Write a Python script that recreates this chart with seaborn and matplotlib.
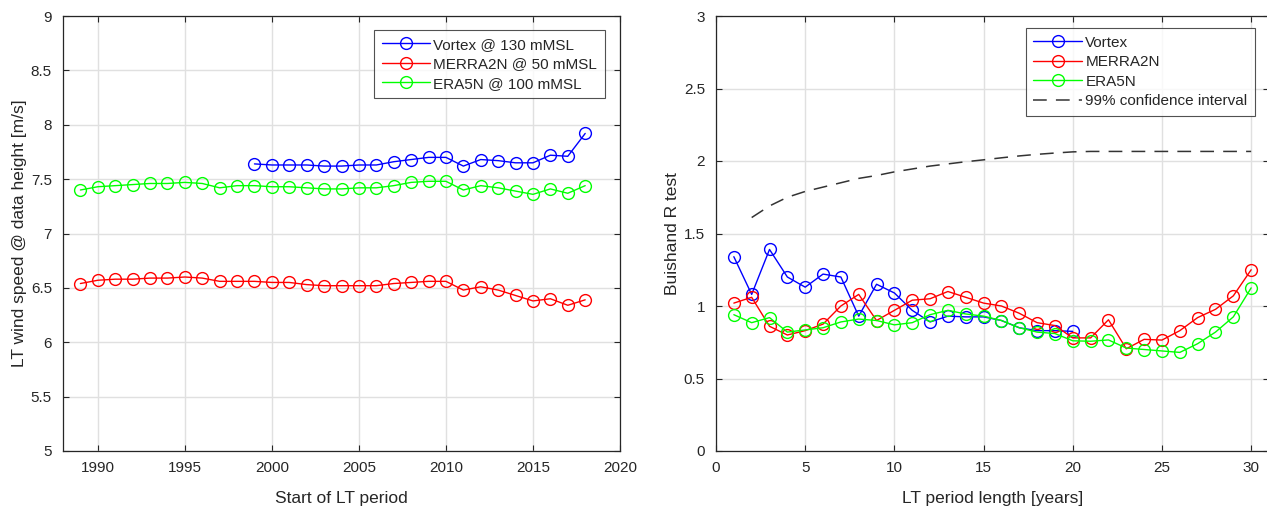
import numpy as np
import pandas as pd
import matplotlib
matplotlib.use("Agg")
import matplotlib.pyplot as plt
import seaborn as sns

# Long-term mean wind speed per start year of the LT period
years_full = list(range(1989, 2019))
years_vortex = list(range(1999, 2019))
vortex_ws = [7.64, 7.63, 7.63, 7.63, 7.62, 7.62, 7.63, 7.63, 7.66, 7.68,
             7.70, 7.70, 7.62, 7.68, 7.67, 7.65, 7.65, 7.72, 7.71, 7.92]
merra_ws = [6.54, 6.57, 6.58, 6.58, 6.59, 6.59, 6.60, 6.59, 6.56, 6.56,
            6.56, 6.55, 6.55, 6.53, 6.52, 6.52, 6.52, 6.52, 6.54, 6.55,
            6.56, 6.56, 6.48, 6.51, 6.48, 6.43, 6.38, 6.40, 6.34, 6.39]
era5_ws = [7.40, 7.43, 7.44, 7.45, 7.46, 7.46, 7.47, 7.46, 7.42, 7.44,
           7.44, 7.43, 7.43, 7.42, 7.41, 7.41, 7.42, 7.42, 7.44, 7.47,
           7.48, 7.48, 7.40, 7.44, 7.42, 7.39, 7.36, 7.41, 7.37, 7.44]

# Buishand R statistic versus LT period length
len_vortex = list(range(1, 21))
len_full = list(range(1, 31))
len_ci = list(range(2, 31))
vortex_r = [1.34, 1.08, 1.39, 1.20, 1.13, 1.22, 1.20, 0.93, 1.15, 1.09,
            0.97, 0.89, 0.93, 0.925, 0.925, 0.90, 0.85, 0.83, 0.83, 0.825]
merra_r = [1.02, 1.06, 0.86, 0.80, 0.83, 0.875, 1.00, 1.08, 0.90, 0.97,
           1.04, 1.05, 1.10, 1.06, 1.02, 1.00, 0.95, 0.885, 0.865, 0.78,
           0.78, 0.905, 0.705, 0.77, 0.765, 0.83, 0.92, 0.977, 1.07, 1.25]
era5_r = [0.94, 0.885, 0.92, 0.82, 0.835, 0.85, 0.89, 0.91, 0.90, 0.87,
          0.885, 0.94, 0.97, 0.945, 0.93, 0.90, 0.85, 0.82, 0.81, 0.76,
          0.757, 0.766, 0.71, 0.70, 0.69, 0.68, 0.74, 0.82, 0.925, 1.125]
ci99 = [1.61, 1.69, 1.75, 1.79, 1.82, 1.85, 1.88, 1.90, 1.925, 1.945,
        1.965, 1.98, 1.995, 2.008, 2.022, 2.035, 2.046, 2.055, 2.063, 2.066,
        2.066, 2.066, 2.066, 2.066, 2.066, 2.066, 2.066, 2.066, 2.066]

labels_left = ["Vortex @ 130 mMSL", "MERRA2N @ 50 mMSL", "ERA5N @ 100 mMSL"]
labels_right = ["Vortex", "MERRA2N", "ERA5N", "99% confidence interval"]

sns.set_theme(style="whitegrid")
plt.rcParams["font.family"] = ["Liberation Sans", "DejaVu Sans"]
axc = "#262626"
plt.rcParams.update({
    "axes.edgecolor": axc,
    "axes.linewidth": 0.9,
    "axes.labelcolor": axc,
    "xtick.color": axc,
    "ytick.color": axc,
    "xtick.direction": "in",
    "ytick.direction": "in",
    "xtick.major.size": 4,
    "ytick.major.size": 4,
    "xtick.major.width": 0.8,
    "ytick.major.width": 0.8,
    "xtick.labelsize": 11,
    "ytick.labelsize": 11,
    "axes.labelsize": 12.5,
    "grid.color": "#e0e0e0",
    "grid.linewidth": 1.0,
    "legend.fontsize": 11,
})

fig = plt.figure(figsize=(12.67, 5.07), dpi=100)
ax1 = fig.add_axes([63 / 1267, 56 / 507, 557 / 1267, 435 / 507])
ax2 = fig.add_axes([716 / 1267, 56 / 507, 553 / 1267, 435 / 507])

mk = dict(marker="o", markersize=8.5, markerfacecolor="none", linewidth=1.0,
          markeredgewidth=1.0)


def draw(ax, x, y, color, label):
    df = pd.DataFrame({"x": x, "y": y})
    sns.lineplot(data=df, x="x", y="y", ax=ax, color=color,
                 markeredgecolor=color, label=label, **mk)


draw(ax1, years_vortex, vortex_ws, "#0000ff", labels_left[0])
draw(ax1, years_full, merra_ws, "#ff0000", labels_left[1])
draw(ax1, years_full, era5_ws, "#00ff00", labels_left[2])

draw(ax2, len_vortex, vortex_r, "#0000ff", labels_right[0])
draw(ax2, len_full, merra_r, "#ff0000", labels_right[1])
draw(ax2, len_full, era5_r, "#00ff00", labels_right[2])
sns.lineplot(x=len_ci, y=ci99, ax=ax2, color="#333333", linewidth=1.1,
             linestyle=(0, (9, 6)), label=labels_right[3])

ax1.set_xlim(1988, 2020)
ax1.set_ylim(5, 9)
ax1.set_xticks(np.arange(1990, 2021, 5))
ax1.set_yticks(np.arange(5, 9.01, 0.5))
ax1.set_yticklabels([f"{v:g}" for v in np.arange(5, 9.01, 0.5)])
ax1.set_xlabel("Start of LT period", labelpad=12)
ax1.set_ylabel("LT wind speed @ data height [m/s]", labelpad=3)

ax2.set_xlim(0, 31)
ax2.set_ylim(0, 3)
ax2.set_xticks(np.arange(0, 31, 5))
ax2.set_yticks(np.arange(0, 3.01, 0.5))
ax2.set_yticklabels([f"{v:g}" for v in np.arange(0, 3.01, 0.5)])
ax2.set_xlabel("LT period length [years]", labelpad=12)
ax2.set_ylabel("Buishand R test", labelpad=3)

for ax in (ax1, ax2):
    ax.tick_params(which="both", top=True, right=True, bottom=True, left=True)
    ax.tick_params(axis="x", pad=7)
    ax.tick_params(axis="y", pad=8)
    for s in ax.spines.values():
        s.set_visible(True)
        s.set_color(axc)
    ax.grid(True)

legkw = dict(frameon=True, fancybox=False, edgecolor=axc, handlelength=3.2,
             borderpad=0.5, labelspacing=0.36, handletextpad=0.2,
             borderaxespad=0)
leg1 = ax1.legend(loc="upper right", bbox_to_anchor=(0.973, 0.968), **legkw)
leg1.get_frame().set_linewidth(0.8)
leg2 = ax2.legend(loc="upper left", bbox_to_anchor=(0.56, 0.972), **legkw)
leg2.get_frame().set_linewidth(0.8)

fig.savefig("out.png", dpi=100, facecolor="white")
